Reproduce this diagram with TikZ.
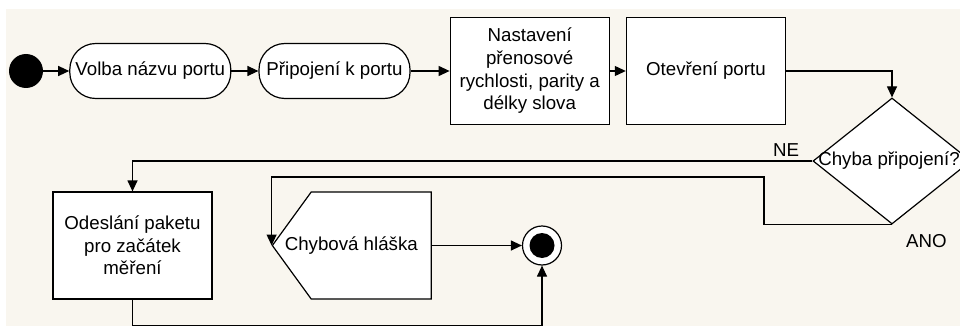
\documentclass[tikz,border=0pt]{standalone}
\usepackage{fontspec}
\setmainfont{Liberation Sans}
\usepackage{xcolor}
\usetikzlibrary{calc, positioning, arrows.meta, shapes.geometric, shapes.symbols}
\definecolor{paper}{RGB}{249,246,239}
\tikzset{
    arrow/.style={-{Triangle[length=11pt, width=10pt]}, line width=1.2pt},
    pill/.style={rectangle, rounded corners=26pt, draw=black, line width=1.2pt, fill=white, minimum width=161pt, minimum height=55pt, inner sep=3pt},
    action/.style={rectangle, draw=black, line width=1.2pt, fill=white, align=center, minimum width=159pt, minimum height=107pt, inner sep=2pt},
    decision/.style={diamond, draw=black, line width=1.2pt, fill=white, minimum width=158pt, minimum height=126pt, inner sep=0pt},
    message/.style={signal, signal to=west, signal from=nowhere, signal pointer angle=108, draw=black, line width=1.2pt, fill=white, minimum width=159pt, minimum height=107pt, inner sep=0pt},
    initial/.style={circle, fill=black, minimum size=34pt, inner sep=0pt},
    final/.style={circle, draw=black, line width=1.2pt, fill=white, minimum size=39pt, inner sep=0pt, path picture={\fill[black] (path picture bounding box.center) circle (12.5pt);}},
    tag/.style={inner sep=0pt}
}

\begin{document}
\begin{tikzpicture}[x=1pt, y=-1pt, font=\fontsize{18.7}{22.7}\selectfont]
        \useasboundingbox (0,0) rectangle (960,326);
        \fill[paper] (6,9) rectangle (960,326);

        % Top row
        \node[initial] (Start) at (26,71) {};
        \node[pill, right=26pt of Start] (Volba) {Volba názvu portu};
        \node[pill, minimum width=151pt, right=27pt of Volba] (Pripojeni) {Připojení k portu};
        \node[action, right=39pt of Pripojeni] (Nastaveni) {Nastavení\\přenosové\\rychlosti, parity a\\délky slova};
        \node[action, right=16pt of Nastaveni] (Otevreni) {Otevření portu};

        % Decision
        \node[decision, label={[xshift=-3pt]center:Chyba připojení?}] (Chyba) at (892,161) {};
        \node[tag, above left=4pt and 13pt of Chyba.west] (Ne) {NE};
        \node[tag, below right=10pt and 14pt of Chyba.south] (Ano) {ANO};

        % Bottom row
        \node[action] (Odeslani) at (132.5,245.5) {Odeslání paketu\\pro začátek\\měření};
        \node[message, right=59pt of Odeslani, label={[xshift=-20pt]center:Chybová hláška}] (Hlaska) {};
        \node[final] (End) at (542,245.5) {};

        % Arrows
        \draw[arrow] (Start) -- (Volba);
        \draw[arrow] (Volba) -- (Pripojeni);
        \draw[arrow] (Pripojeni) -- (Nastaveni);
        \draw[arrow] (Nastaveni) -- (Otevreni);
        \draw[arrow] (Otevreni.east) -| (Chyba.north);
        \draw[arrow] (Chyba.west) -| (Odeslani.north);
        \coordinate (AnoBend) at (764,177);
        \draw[arrow] (Chyba.south) -| (AnoBend) -| (Hlaska.west);
        \draw[arrow] (Hlaska.east) -- (End.west);
        \draw[arrow] (Odeslani.south) -- ++(0,26) -| (End.south);
    \end{tikzpicture}
\end{document}
